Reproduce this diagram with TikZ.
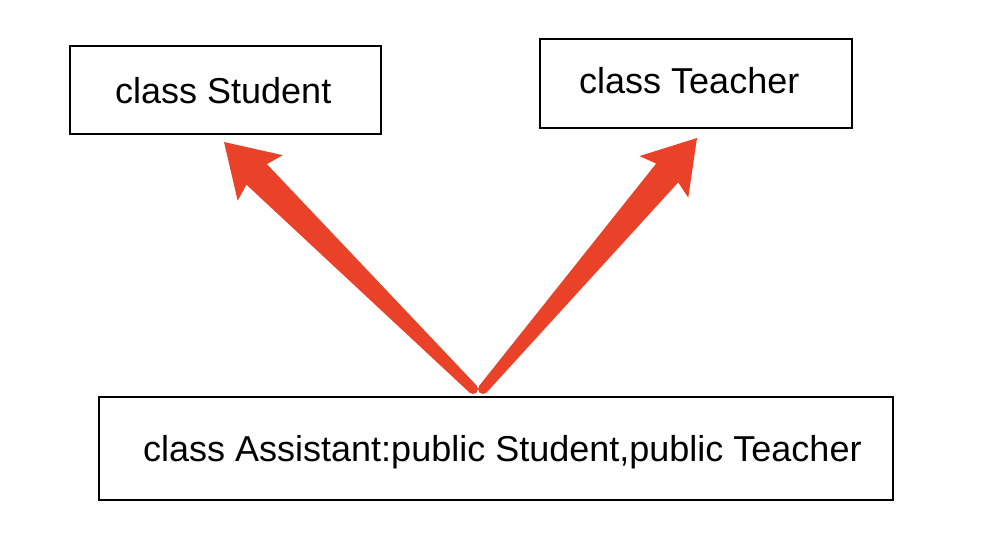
\documentclass[tikz,border=0pt]{standalone}
\usepackage{fontspec}
\setmainfont{Liberation Sans}
\usetikzlibrary{calc}
\definecolor{arrowred}{RGB}{233,66,40}
\tikzset{
  classbox/.style={draw=black, line width=2pt, inner sep=0pt, fill=white},
  classlabel/.style={anchor=base west, inner sep=0pt, font=\fontsize{36}{40}\selectfont},
}
% tapered filled arrow: #1 = base point, #2 = tip point
\newcommand{\taperarrow}[2]{%
  \coordinate (hb) at ($(#2)!51pt!(#1)$);
  \coordinate (hn) at ($(#2)!46pt!(#1)$);
  \fill[arrowred] ($(#1)!5pt!90:(#2)$)
    -- ($(hn)!14.5pt!-90:(#1)$)
    -- ($(hb)!32pt!-90:(#1)$)
    -- (#2)
    -- ($(hb)!32pt!90:(#1)$)
    -- ($(hn)!14.5pt!90:(#1)$)
    -- ($(#1)!5pt!-90:(#2)$) -- cycle;
  \fill[arrowred] (#1) circle[radius=5pt];
}
\begin{document}
\begin{tikzpicture}[x=1pt, y=-1pt]
  \useasboundingbox (0,0) rectangle (998,550);

  % class boxes
  \node[classbox, minimum width=311pt, minimum height=88pt] (student) at (225.5,90) {};
  \node[classbox, minimum width=312pt, minimum height=89pt] (teacher) at (695.5,83.5) {};
  \node[classbox, minimum width=794pt, minimum height=103pt] (assistant) at (496,448.5) {};

  % labels
  \node[classlabel] (studenttext) at (115,103) {class Student};
  \node[classlabel] (teachertext) at (579,93) {class Teacher};
  \node[classlabel] (assistanttext) at (143,461) {class Assistant:public Student,public Teacher};

  % arrow end points
  \coordinate (sbase) at ($(assistant.north)+(-23,-7)$);
  \coordinate (tbase) at ($(assistant.north)+(-13,-7)$);
  \coordinate (stip) at ($(student.south)+(-1.5,7)$);
  \coordinate (ttip) at ($(teacher.south)+(1.5,9)$);

  % inheritance arrows
  \taperarrow{sbase}{stip}
  \taperarrow{tbase}{ttip}
\end{tikzpicture}
\end{document}
